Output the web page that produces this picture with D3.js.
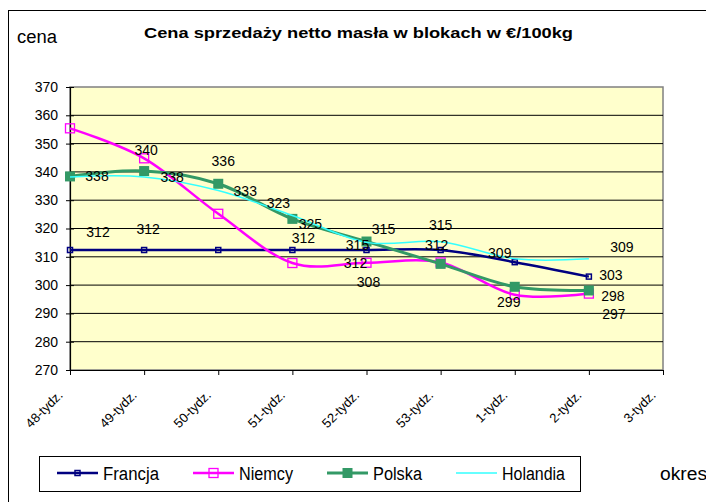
<!DOCTYPE html>
<html>
<head>
<meta charset="utf-8">
<script src="https://cdn.jsdelivr.net/npm/d3@7"></script>
<style>
  body { margin: 0; background: #fff; }
  svg { display: block; font-family: "Liberation Sans", Arial, sans-serif; }
</style>
</head>
<body>
<script>
var categories = ['48-tydz.', '49-tydz.', '50-tydz.', '51-tydz.', '52-tydz.', '53-tydz.', '1-tydz.', '2-tydz.', '3-tydz.'];
var francja  = [312.4, 312.4, 312.4, 312.4, 312.4, 312.4, 308.1, 303.0];
var niemcy   = [355.4, 344.8, 325.2, 307.8, 307.9, 308.0, 296.6, 297.0];
var polska   = [338.4, 340.3, 335.8, 323.4, 315.4, 307.5, 299.4, 298.1];
var holandia = [338.2, 338.2, 333.4, 324.6, 315.1, 315.3, 309.3, 309.3];
var yTickValues = [270, 280, 290, 300, 310, 320, 330, 340, 350, 360, 370];
var seriesNames = ['Francja', 'Niemcy', 'Polska', 'Holandia'];

// which points carry a value label, and where it sits relative to the point
var labelSpots = [
  ['Francja', 0, 28, -18], ['Francja', 1, 4, -21], ['Francja', 3, 11, -12],
  ['Francja', 4, -11, 13], ['Francja', 5, -4, -5], ['Francja', 7, 22, -2],
  ['Niemcy', 4, 2, 19], ['Niemcy', 7, 25, 20],
  ['Polska', 0, 27, 0], ['Polska', 1, 2, -21], ['Polska', 2, 5, -23],
  ['Polska', 3, -14, -16], ['Polska', 4, 17, -13], ['Polska', 6, -6, 15],
  ['Polska', 7, 24, 5],
  ['Holandia', 1, 28, 0], ['Holandia', 2, 27, 0], ['Holandia', 3, 18, 8],
  ['Holandia', 4, -9, 3], ['Holandia', 5, 0, -17], ['Holandia', 6, -15, -6],
  ['Holandia', 7, 33, -12]
];

var values = { Francja: francja, Niemcy: niemcy, Polska: polska, Holandia: holandia };
var styles = {
  Francja:  { color: '#000080', width: 2.5, marker: 'small',  textLen: 56 },
  Niemcy:   { color: '#ff00ff', width: 2.5, marker: 'hollow', textLen: 54 },
  Polska:   { color: '#339966', width: 3,   marker: 'filled', textLen: 49 },
  Holandia: { color: '#33ffff', width: 1.5, marker: 'none',   textLen: 63 }
};

var W = 706, H = 502;
var plotLeft = 70, plotRight = 663, plotTop = 87, plotBottom = 370;

var svg = d3.select('body').append('svg')
    .attr('width', W)
    .attr('height', H);

svg.append('rect')
    .attr('x', 8.5).attr('y', 10.5)
    .attr('width', 760).attr('height', 560)
    .attr('fill', '#fff')
    .attr('stroke', '#000');

var x = d3.scalePoint().domain(categories).range([plotLeft, plotRight]);
var y = d3.scaleLinear().domain([270, 370]).range([plotBottom, plotTop]);

// plot area
svg.append('rect')
    .attr('x', plotLeft).attr('y', plotTop)
    .attr('width', plotRight - plotLeft).attr('height', plotBottom - plotTop)
    .attr('fill', '#ffffcc')
    .attr('stroke', '#808080')
    .attr('stroke-width', 1.5);

svg.append('g')
    .selectAll('line')
    .data(yTickValues.slice(1, -1))
    .enter()
    .append('line')
    .attr('x1', plotLeft).attr('x2', plotRight)
    .attr('y1', function(d) { return y(d); })
    .attr('y2', function(d) { return y(d); })
    .attr('stroke', '#000')
    .attr('stroke-width', 1);

var yAxis = svg.append('g')
    .attr('transform', 'translate(' + plotLeft + ',0)')
    .call(d3.axisLeft(y).tickValues(yTickValues).tickSize(4).tickPadding(8));
yAxis.selectAll('.tick line').attr('x2', 4).attr('x1', -4);
yAxis.selectAll('text')
    .attr('font-size', 14)
    .attr('font-family', '"Liberation Sans", Arial, sans-serif')
    .attr('fill', '#000');

var xAxis = svg.append('g')
    .attr('transform', 'translate(0,' + plotBottom + ')')
    .call(d3.axisBottom(x).tickSize(5).tickSizeOuter(0));
xAxis.selectAll('text')
    .attr('font-size', 13)
    .attr('font-family', '"Liberation Sans", Arial, sans-serif')
    .attr('fill', '#000')
    .attr('text-anchor', 'end')
    .attr('dy', null)
    .attr('y', null)
    .attr('transform', 'translate(-7,26) rotate(-45)');
svg.selectAll('.domain').attr('stroke', '#000').attr('stroke-width', 1.2);

var line = d3.line()
    .x(function(d, i) { return x(categories[i]); })
    .y(function(d) { return y(d); })
    .curve(d3.curveCatmullRom.alpha(0));

function drawMarker(g, kind, color) {
  if (kind === 'small') {
    g.append('rect').attr('x', -2.5).attr('y', -2.5).attr('width', 5).attr('height', 5)
        .attr('fill', 'none').attr('stroke', color).attr('stroke-width', 1.5);
  } else if (kind === 'hollow') {
    g.append('rect').attr('x', -4.5).attr('y', -4.5).attr('width', 9).attr('height', 9)
        .attr('fill', 'none').attr('stroke', color).attr('stroke-width', 1.3);
  } else if (kind === 'filled') {
    g.append('rect').attr('x', -5).attr('y', -5).attr('width', 10).attr('height', 10)
        .attr('fill', color);
  }
}

seriesNames.forEach(function(name) {
  var st = styles[name];
  svg.append('path')
      .datum(values[name])
      .attr('d', line)
      .attr('fill', 'none')
      .attr('stroke', st.color)
      .attr('stroke-width', st.width);
  values[name].forEach(function(v, i) {
    var g = svg.append('g').attr('transform', 'translate(' + x(categories[i]) + ',' + y(v) + ')');
    drawMarker(g, st.marker, st.color);
  });
});

svg.append('g')
    .selectAll('text')
    .data(labelSpots)
    .enter()
    .append('text')
    .attr('x', function(d) { return x(categories[d[1]]) + d[2]; })
    .attr('y', function(d) { return y(values[d[0]][d[1]]) + d[3]; })
    .attr('dy', '0.36em')
    .attr('text-anchor', 'middle')
    .attr('font-size', 14)
    .text(function(d) { return d3.format('.0f')(values[d[0]][d[1]]); });

// titles
svg.append('text')
    .attr('x', 144).attr('y', 38)
    .attr('font-size', 15)
    .attr('font-weight', 'bold')
    .attr('textLength', 429)
    .attr('lengthAdjust', 'spacingAndGlyphs')
    .text('Cena sprzedaży netto masła w blokach w €/100kg');

svg.append('text')
    .attr('x', 17).attr('y', 43)
    .attr('font-size', 18)
    .attr('textLength', 40)
    .attr('lengthAdjust', 'spacingAndGlyphs')
    .text('cena');

svg.append('text')
    .attr('x', 660).attr('y', 480)
    .attr('font-size', 18)
    .attr('textLength', 47)
    .attr('lengthAdjust', 'spacingAndGlyphs')
    .text('okres');

// legend
var legend = svg.append('g');
legend.append('rect')
    .attr('x', 39.5).attr('y', 456.5)
    .attr('width', 541).attr('height', 35)
    .attr('fill', '#fff')
    .attr('stroke', '#000');

var legendX = [57, 193, 327, 456];
seriesNames.forEach(function(name, i) {
  var st = styles[name];
  var g = legend.append('g').attr('transform', 'translate(' + legendX[i] + ',473)');
  g.append('line')
      .attr('x1', 0).attr('x2', 41)
      .attr('stroke', st.color)
      .attr('stroke-width', st.width);
  var m = g.append('g').attr('transform', 'translate(20.5,0)');
  drawMarker(m, st.marker, st.color);
  g.append('text')
      .attr('x', 46).attr('y', 7)
      .attr('font-size', 18)
      .attr('textLength', st.textLen)
      .attr('lengthAdjust', 'spacingAndGlyphs')
      .text(name);
});
</script>
</body>
</html>
